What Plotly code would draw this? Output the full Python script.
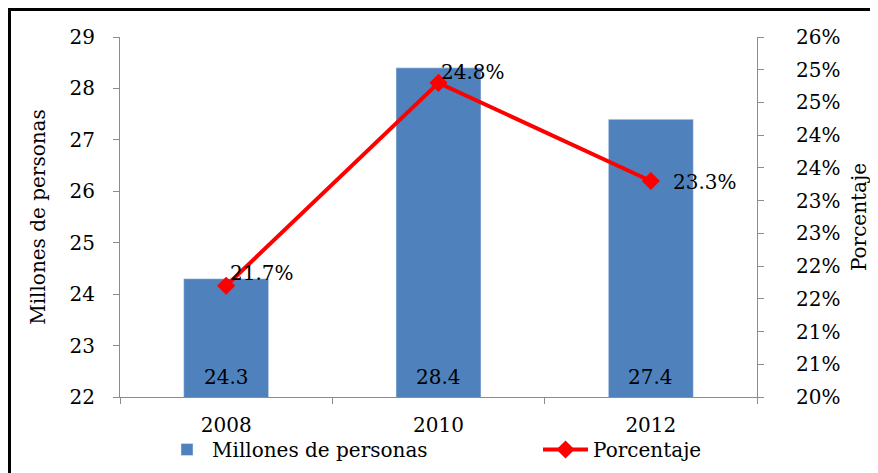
import plotly.graph_objects as go

years = ["2008", "2010", "2012"]
millones = [24.3, 28.4, 27.4]
porcentaje = [0.217, 0.248, 0.233]
pct_labels = ["21.7%", "24.8%", "23.3%"]
left_ticks = [22, 23, 24, 25, 26, 27, 28, 29]
right_tickvals = [0.20, 0.205, 0.21, 0.215, 0.22, 0.225, 0.23, 0.235, 0.24, 0.245, 0.25, 0.255]
right_ticktext = ["20%", "21%", "21%", "22%", "22%", "23%", "23%", "24%", "24%", "25%", "25%", "26%"]

FONT = "DejaVu Serif"
FS = 20
AXC = "#8c8c8c"
W, H = 870, 465          # page body has an 8px margin
L, R, T, B = 112, 121, 29, 76
PW, PH = W - L - R, H - T - B

def px(xp):  # figure px -> paper x
    return (xp - L) / PW

def py(yp):  # figure px -> paper y
    return (H - B - yp) / PH

fig = go.Figure()
fig.add_trace(go.Bar(
    x=years, y=millones, name="Millones de personas",
    marker=dict(color="#4F81BD"), width=0.4, legend="legend",
))
fig.add_trace(go.Scatter(
    x=years, y=porcentaje, name="Porcentaje", yaxis="y2", legend="legend2",
    mode="lines+markers",
    line=dict(color="#FF0000", width=4),
    marker=dict(symbol="diamond", size=14, color="#FF0000"),
))

# bar value labels at the base of each bar
for i, v in enumerate(millones):
    fig.add_annotation(x=i, y=left_ticks[0], xref="x", yref="y", text=f"{v:.1f}",
                       yanchor="bottom", showarrow=False, yshift=6,
                       font=dict(color="black", size=FS, family=FONT))

# percentage labels next to the markers
label_shift = [(2, 13), (0, 11), (20, -1)]
for i, (v, t) in enumerate(zip(porcentaje, pct_labels)):
    dx, dy = label_shift[i]
    fig.add_annotation(x=i, y=v, xref="x", yref="y2", text=t,
                       xanchor="left", yanchor="middle", showarrow=False,
                       xshift=dx, yshift=dy,
                       font=dict(color="black", size=FS, family=FONT))

fig.update_layout(
    width=W, height=H,
    margin=dict(l=L, r=R, t=T, b=B, autoexpand=False),
    paper_bgcolor="white", plot_bgcolor="white",
    font=dict(family=FONT, size=FS, color="black"),
    showlegend=True,
    legend=dict(orientation="h", x=px(154), xanchor="left", y=py(422), yanchor="top",
                font=dict(size=FS, family=FONT), itemwidth=40, bgcolor="rgba(0,0,0,0)"),
    legend2=dict(orientation="h", x=px(530), xanchor="left", y=py(422), yanchor="top",
                 font=dict(size=FS, family=FONT), itemwidth=45, bgcolor="rgba(0,0,0,0)"),
    xaxis=dict(type="category", showline=True, linecolor=AXC, linewidth=1, automargin=False,
               range=[-0.5, len(years) - 0.5],
               ticks="outside", tickson="boundaries", ticklen=6, tickcolor=AXC,
               showgrid=False, tickfont=dict(size=FS), ticklabelstandoff=10),
    yaxis=dict(range=[22, 29], tickvals=left_ticks, showline=True, linecolor=AXC, automargin=False,
               ticks="outside", ticklen=6, tickcolor=AXC, showgrid=False, zeroline=False,
               title=dict(text="Millones de personas", font=dict(size=FS), standoff=18),
               tickfont=dict(size=FS), ticklabelstandoff=14),
    yaxis2=dict(range=[0.20, 0.255], tickvals=right_tickvals, ticktext=right_ticktext,
                overlaying="y", side="right", showline=True, linecolor=AXC, automargin=False,
                ticks="outside", ticklen=6, tickcolor=AXC, showgrid=False, zeroline=False,
                title=dict(text="Porcentaje", font=dict(size=FS), standoff=12),
                tickfont=dict(size=FS), ticklabelstandoff=28),
)

# chart frame (left and top edges visible)
fig.add_shape(type="line", xref="paper", yref="paper",
              x0=px(1.5), x1=px(1.5), y0=py(1.5), y1=py(H + 10),
              line=dict(color="black", width=3))
fig.add_shape(type="line", xref="paper", yref="paper",
              x0=px(0), x1=px(W + 10), y0=py(1.5), y1=py(1.5),
              line=dict(color="black", width=3))

fig.write_html("out.html")
